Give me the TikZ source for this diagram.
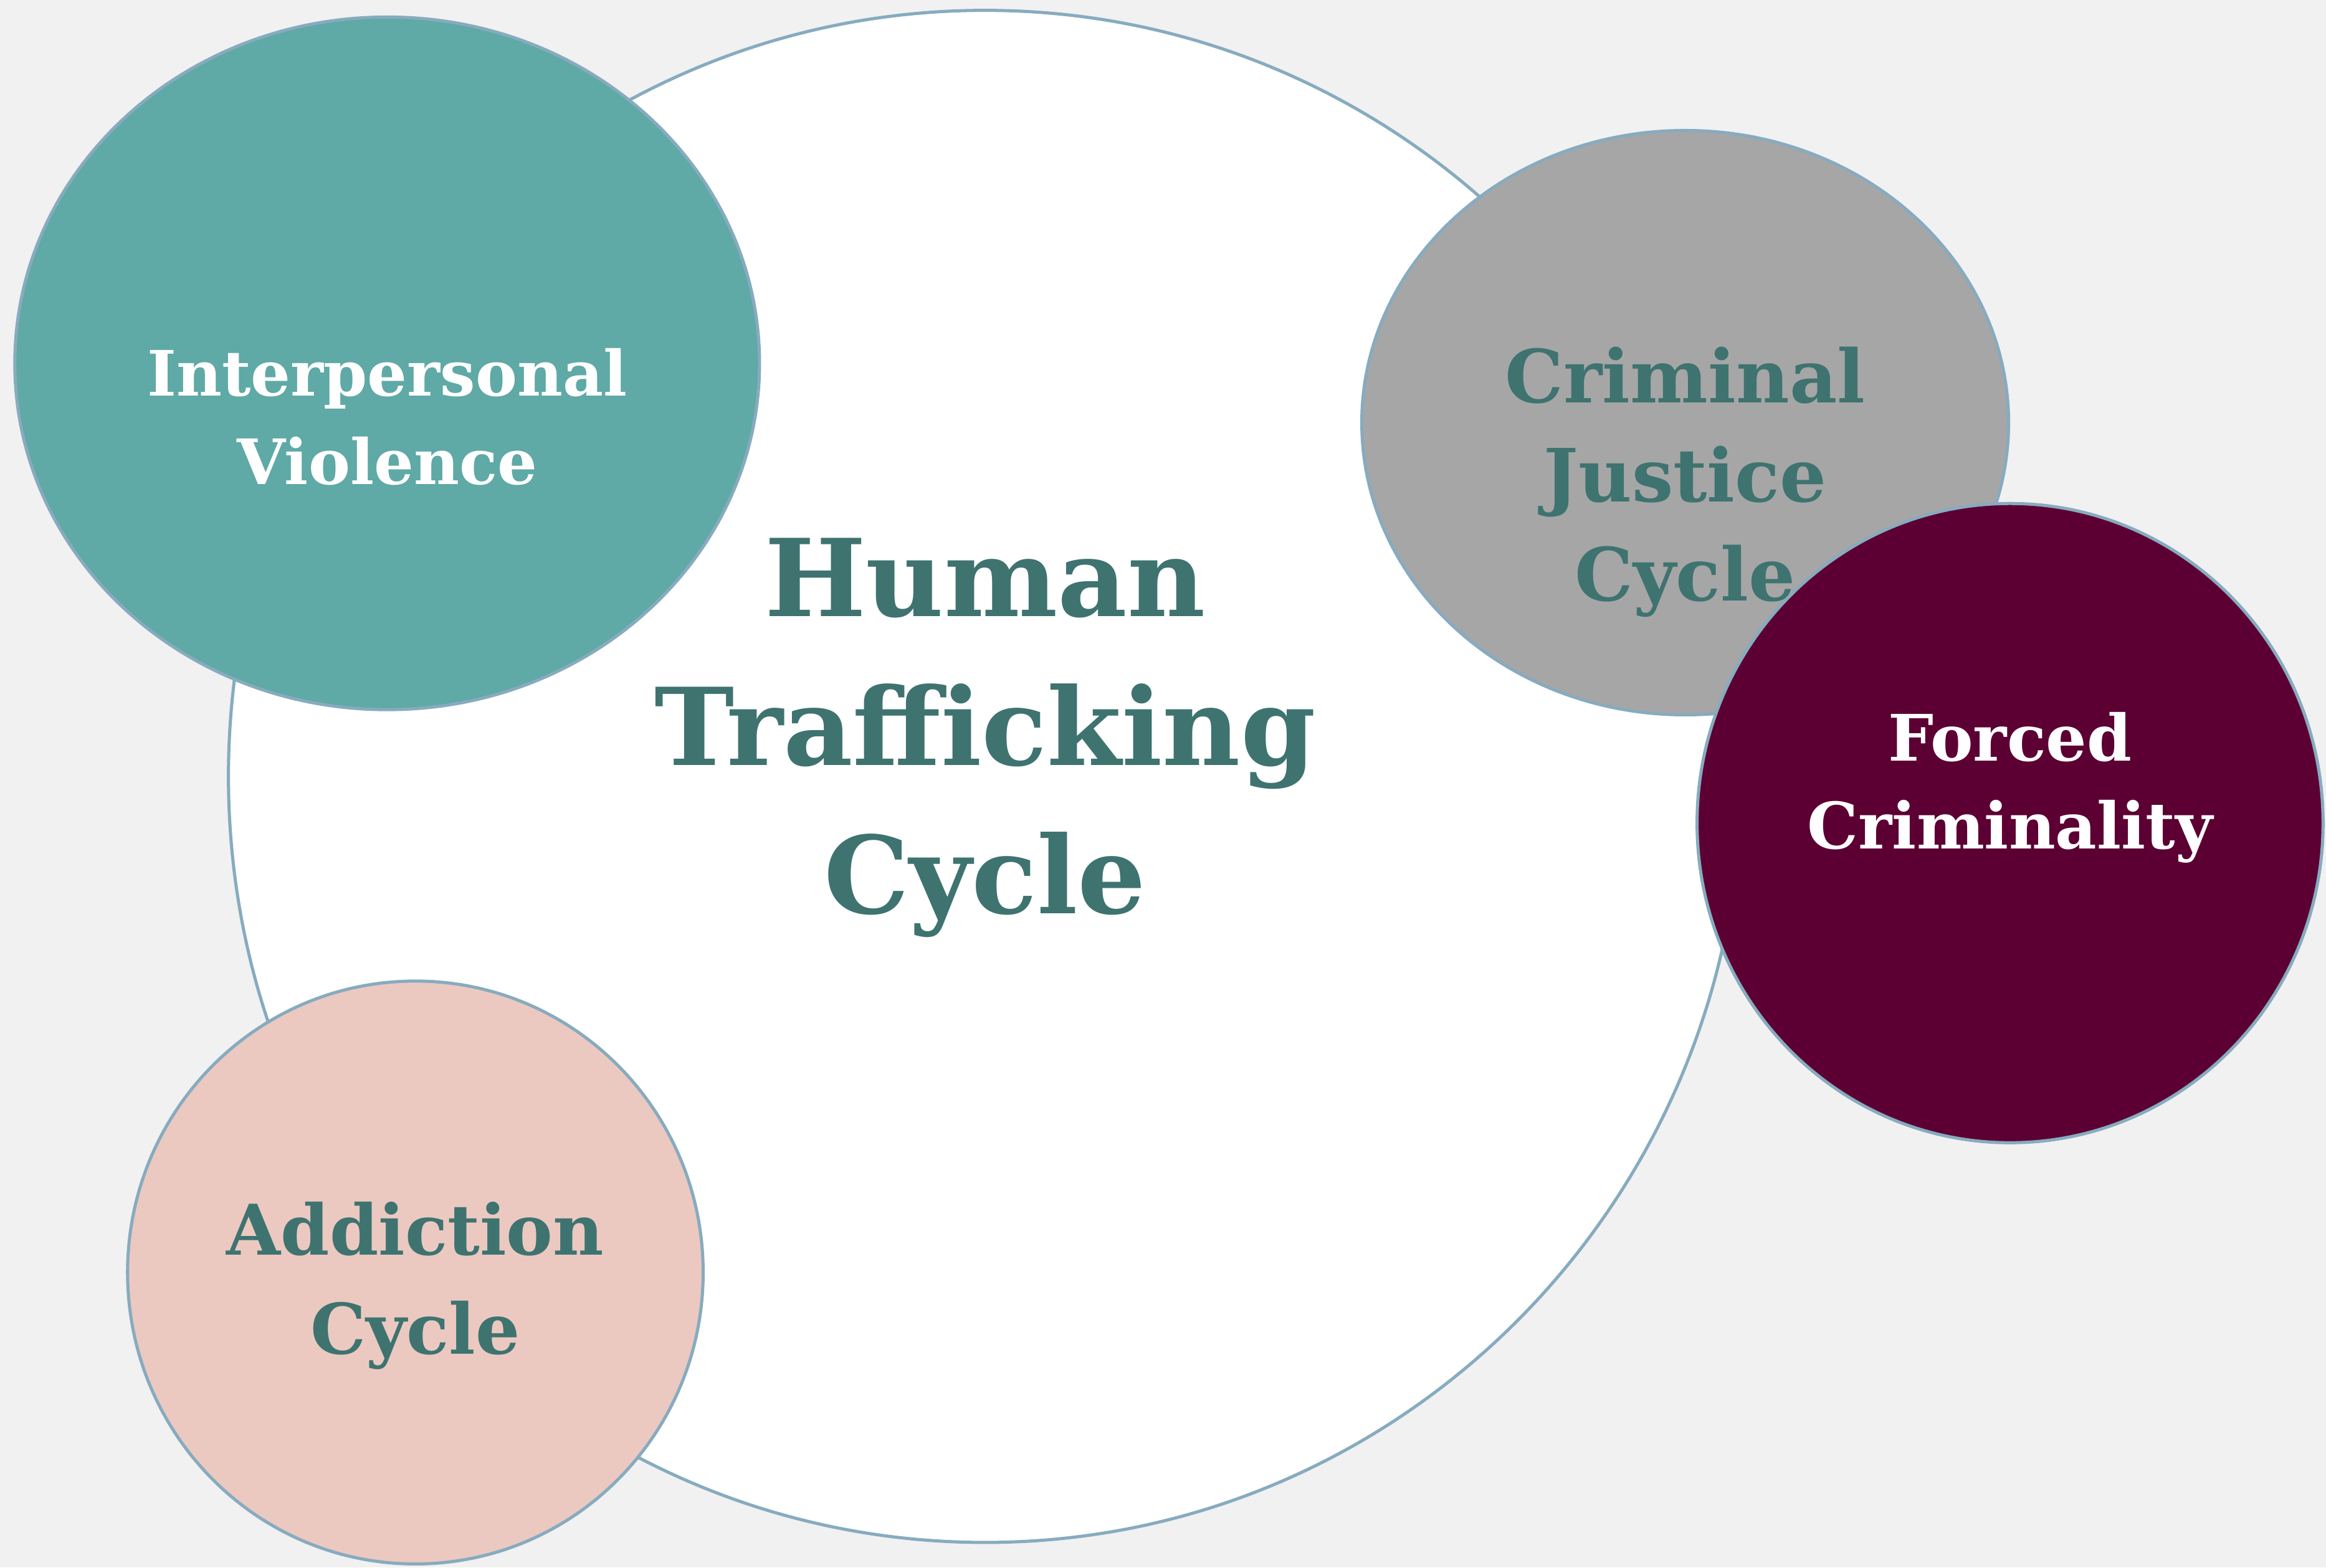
\documentclass[tikz,border=0pt]{standalone}
\usepackage{fontspec}
\setmainfont{DejaVu Serif}
\usepackage{tikz}
\usetikzlibrary{shapes.geometric, positioning}

\definecolor{paper}{HTML}{F1F1F1}
\definecolor{rim}{HTML}{87ABBF}
\definecolor{tealfill}{HTML}{5FA9A6}
\definecolor{grayfill}{HTML}{A6A6A6}
\definecolor{maroonfill}{HTML}{5C0033}
\definecolor{pinkfill}{HTML}{EBC9C1}
\definecolor{darkteal}{HTML}{3E7370}

\begin{document}
\begin{tikzpicture}[
        bubble/.style={ellipse, draw=rim, line width=0.6pt, inner sep=0pt},
        word/.style={align=center, font=\bfseries, text=darkteal, inner sep=0pt},
    ]
    % --- Background ---
    \fill[paper] (0,0) rectangle (15.68,10.57);
    \useasboundingbox (0,0) rectangle (15.68,10.57);

    % --- Circles ---
    \node[bubble, fill=white, minimum width=10.2cm, minimum height=10.33cm] (cycle) at (6.64,5.335) {};
    \node[bubble, fill=tealfill, minimum width=5.02cm, minimum height=4.67cm] (violence) at (2.61,8.12) {};
    \node[bubble, fill=pinkfill, minimum width=3.88cm, minimum height=3.93cm] (addiction) at (2.80,1.99) {};
    \node[bubble, fill=grayfill, minimum width=4.36cm, minimum height=3.94cm] (justice) at (11.36,7.72) {};

    % --- Labels ---
    \node[word, font=\bfseries\fontsize{20.6}{28.5}\selectfont] (cycletxt) at ([yshift=0.26cm]cycle.center) {Human\\Trafficking\\Cycle};
    \node[word, text=white, font=\bfseries\fontsize{12}{17}\selectfont] (violencetxt) at ([yshift=-0.36cm]violence.center) {Interpersonal\\Violence};
    \node[word, font=\bfseries\fontsize{13.4}{19}\selectfont] (addictiontxt) at ([yshift=-0.09cm]addiction.center) {Addiction\\Cycle};
    \node[word, font=\bfseries\fontsize{14.1}{19}\selectfont] (justicetxt) at ([yshift=-0.40cm]justice.center) {Criminal\\Justice\\Cycle};

    % forced criminality sits over the gray one
    \node[bubble, fill=maroonfill, minimum width=4.22cm, minimum height=4.31cm] (forced) at (13.55,5.02) {};
    \node[word, text=white, font=\bfseries\fontsize{12.3}{16.8}\selectfont] (forcedtxt) at ([yshift=0.24cm]forced.center) {Forced\\Criminality};
\end{tikzpicture}
\end{document}
